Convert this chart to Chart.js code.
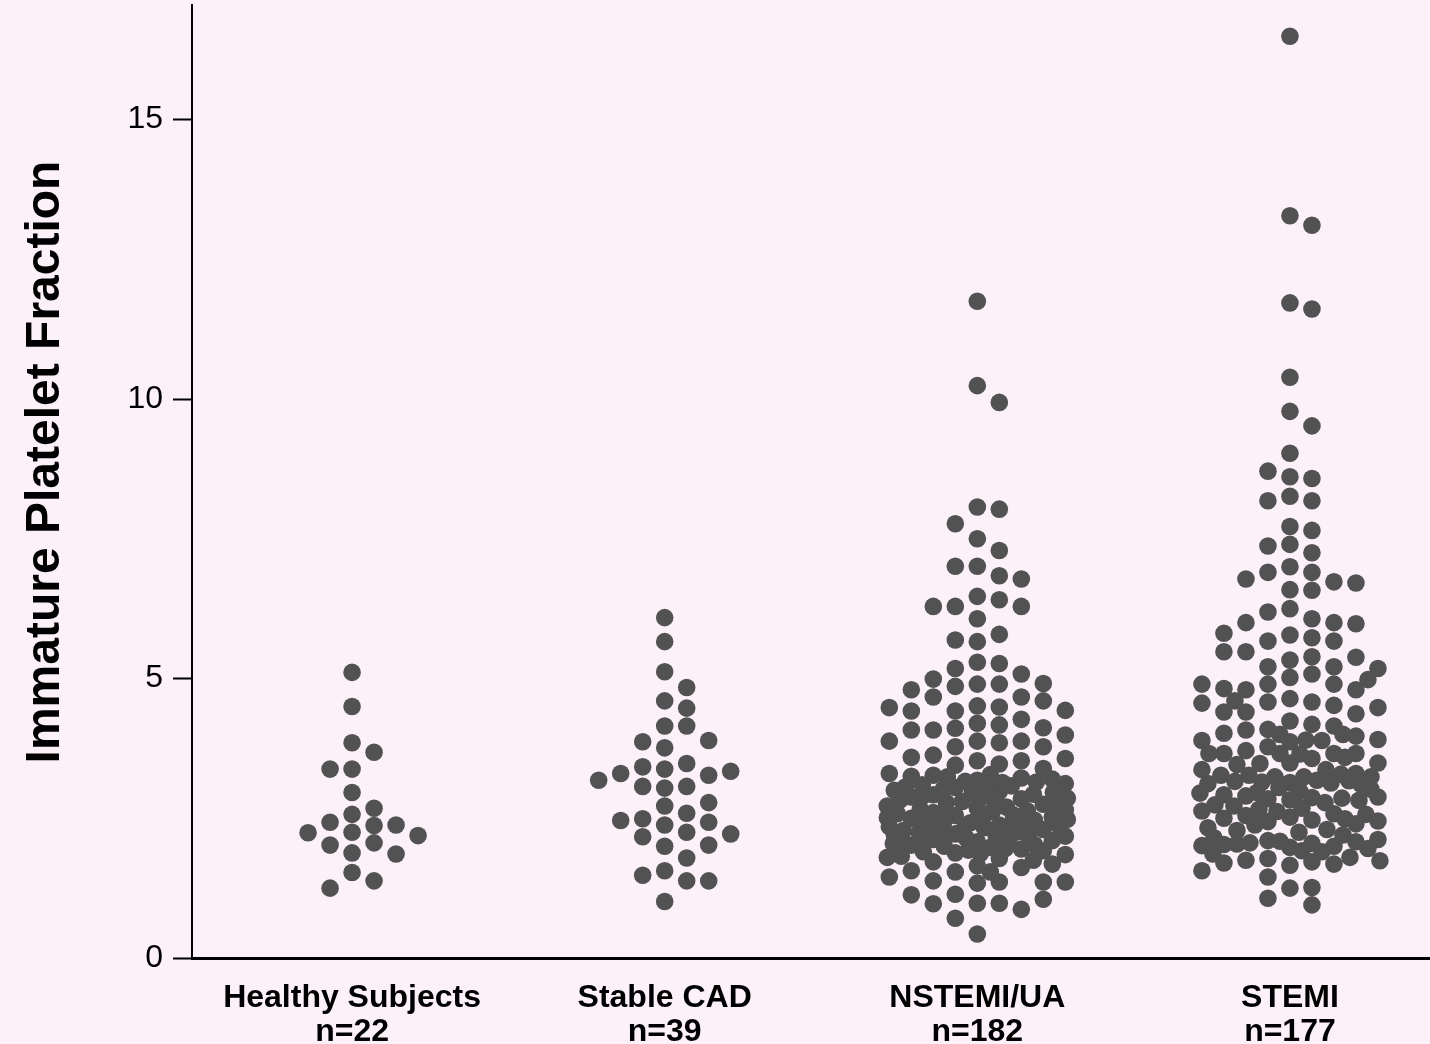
<!DOCTYPE html>
<html>
<head>
<meta charset="utf-8">
<title>Immature Platelet Fraction</title>
<script src="https://cdn.jsdelivr.net/npm/chart.js@4.4.1/dist/chart.umd.min.js"></script>
<style>
  html, body { margin: 0; padding: 0; background: #fcf0f9; }
  #wrap { width: 1430px; height: 1044px; }
</style>
</head>
<body>
<div id="wrap"><canvas id="ipfChart"></canvas></div>
<script>
const groupLabels = [
    ['Healthy Subjects', 'n=22'],
    ['Stable CAD', 'n=39'],
    ['NSTEMI/UA', 'n=182'],
    ['STEMI', 'n=177'],
];
const yTicks = [0, 5, 10, 15];

// IPF values, roughly top to bottom
const healthy = [5.11, 4.50, 3.85, 3.68, 3.38, 3.38, 2.96, 2.68, 2.57, 2.43, 2.37,
    2.38, 2.25, 2.24, 2.19, 2.06, 2.02, 1.88, 1.86, 1.53, 1.38, 1.25];

const stableCad = [6.09, 5.66, 5.12, 4.84, 4.60, 4.47, 4.15, 4.15, 3.87, 3.89, 3.76,
    3.38, 3.48, 3.42, 3.27, 3.30, 3.34, 3.18, 3.04, 3.07, 3.07, 2.78, 2.72, 2.59,
    2.49, 2.43, 2.38, 2.46, 2.25, 2.22, 2.17, 2.00, 2.02, 1.79, 1.56, 1.38, 1.48,
    1.38, 1.01];

const nstemi = [
    11.75, 10.24, 9.94, 8.07, 8.03, 7.77, 7.50, 7.29, 7.01, 7.01, 6.84, 6.78, 6.47,
    6.41, 6.29, 6.29, 6.29, 6.07, 5.79, 5.66, 5.69,
    5.29, 5.27, 5.18, 5.08, 4.99, 4.90, 4.90, 4.91, 4.86, 4.80, 4.67, 4.67, 4.60,
    4.51, 4.49, 4.42, 4.42, 4.43, 4.48, 4.27, 4.20, 4.17, 4.11, 4.08, 4.12, 4.08,
    3.99, 3.88, 3.85, 3.88, 3.88, 3.78, 3.78, 3.63, 3.59, 3.53, 3.47, 3.53, 3.57,
    3.45, 3.39, 3.27,
    3.30, 2.68, 2.08, 3.18, 2.38, 2.98, 1.78, 2.55, 3.05, 2.22, 2.85, 1.95, 3.25,
    2.45, 2.12, 2.92, 2.60, 1.88, 3.12, 2.30, 2.75, 2.02, 2.50, 3.22, 1.65, 2.88,
    2.18, 2.65, 3.00, 2.35, 1.92, 2.80, 2.58, 2.25, 3.15, 1.72, 2.96, 2.42, 2.05,
    3.10, 2.70, 2.28, 1.85, 2.52, 3.28, 2.15, 2.90, 2.62, 1.98, 2.33, 3.08, 2.78,
    2.47, 1.82, 2.20, 2.95, 3.20, 2.40, 1.62, 2.66, 2.10, 2.86, 3.02, 2.26, 1.90,
    2.56, 2.72, 3.16, 2.14, 2.44, 2.00, 2.83, 3.24, 2.36, 1.68, 2.63, 2.93, 2.17,
    3.06, 1.96, 2.48, 2.77, 2.32, 1.80, 3.11, 2.53, 2.89, 2.23, 2.03, 2.59, 3.14,
    1.75, 2.29, 2.82, 2.51, 2.11, 2.37, 1.93, 2.21, 2.06, 1.87,
    1.54, 1.56, 1.36, 1.38, 1.34, 1.36, 1.36, 1.45, 1.54, 1.14, 0.98, 0.98, 0.87,
    0.97, 1.05, 1.13, 0.71, 0.43,
];

const stemi = [
    16.49, 13.28, 13.11, 11.72, 11.61, 10.39, 9.78, 9.52,
    9.03, 8.61, 8.58, 8.71, 8.26, 8.18, 8.18, 7.72, 7.65, 7.40, 7.37, 7.25, 7.00,
    6.90, 6.90, 6.73, 6.78, 6.59, 6.58, 6.71, 6.25, 6.07, 6.19, 6.00, 6.00, 5.98,
    5.78, 5.73, 5.67, 5.67, 5.81, 5.48, 5.33, 5.39, 5.38, 5.48, 5.21, 5.21, 5.18,
    5.02, 5.08, 4.90, 4.90, 4.80, 4.80, 4.82, 4.90, 4.98, 4.64, 4.58, 4.58, 4.52,
    4.40, 4.37, 4.40, 4.48, 4.56, 4.60, 4.24, 4.18, 4.09, 4.15, 4.08, 3.97, 4.02,
    3.87, 3.91, 3.89, 3.89, 3.90, 3.78, 4.00, 4.00, 3.66, 3.71, 3.57, 3.66, 3.49,
    3.66, 3.49, 3.66, 3.48, 3.66, 3.46, 3.59, 3.65, 3.37, 3.37, 3.30, 3.27, 3.24,
    3.24, 3.27, 3.29, 3.24,
    3.16, 3.14, 3.18, 3.12, 3.15, 3.13, 3.17, 3.11,
    2.90, 2.87, 2.85, 2.92, 2.83, 2.88, 2.86, 2.95, 2.82,
    2.58, 2.52, 2.47, 2.63, 2.44, 2.55, 2.40, 2.50, 2.45, 2.57, 2.49,
    2.33, 2.30, 2.28, 2.25,
    2.10, 2.05, 2.00, 2.08, 2.03, 1.98, 2.12, 2.06, 2.01, 2.09, 2.04, 1.96,
    1.78, 1.72, 1.75, 1.68, 1.80, 1.70, 1.74, 1.66,
    3.05, 2.98, 2.78, 2.72, 2.68, 2.96, 2.62, 2.38, 2.20, 2.15, 1.90, 1.86, 1.92,
    2.74, 3.02, 2.66,
    1.45, 1.56, 1.25, 1.26, 1.07, 0.95,
];

const groups = [healthy, stableCad, nstemi, stemi];

const BG = '#fcf0f9';
const DOT = '#525252';
const COL_PX = 22;   // spacing of swarm columns
const DIAM_PX = 17;  // points closer than this overlap
const MAX_COL = 4;
const MAX_W = 90;    // half width of a swarm, px

Chart.defaults.font.family = "'Liberation Sans', Arial, sans-serif";
Chart.defaults.color = '#000';

function clearance(placed, x, y) {
    let m = Infinity;
    for (const p of placed) {
        const d = Math.hypot(p.x - x, p.y - y);
        if (d < m) m = d;
    }
    return m;
}

// free column closest to the centre first; when the band is full,
// drop the point where it overlaps its neighbours least
function swarmOffsets(pys) {
    const placed = [];
    const order = [0];
    for (let k = 1; k <= MAX_COL; k++) order.push(k, -k);
    return pys.map(py => {
        let x = null;
        for (const c of order) {
            if (clearance(placed, c * COL_PX, py) >= DIAM_PX) { x = c * COL_PX; break; }
        }
        if (x === null) {
            let best = -1;
            for (let cx = 0; cx <= MAX_W; cx += 1) {
                for (const s of cx ? [cx, -cx] : [0]) {
                    const cl = clearance(placed, s, py);
                    if (cl > best + 0.01) { best = cl; x = s; }
                }
            }
        }
        placed.push({ x, y: py });
        return x;
    });
}

const bgPlugin = {
    id: 'bg',
    beforeDraw(chart) {
        const c = chart.ctx;
        c.save();
        c.fillStyle = BG;
        c.fillRect(0, 0, chart.width, chart.height);
        c.restore();
    },
    afterDraw(chart) {
        const c = chart.ctx;
        c.save();
        c.translate(59, 462);
        c.rotate(-Math.PI / 2);
        c.font = "bold 48px 'Liberation Sans', Arial, sans-serif";
        c.fillStyle = '#000';
        c.textAlign = 'center';
        c.textBaseline = 'alphabetic';
        c.fillText('Immature Platelet Fraction', 0, 0);
        c.restore();
    },
};

const chart = new Chart(document.getElementById('ipfChart'), {
    type: 'scatter',
    data: {
        datasets: groups.map((vals, i) => ({
            label: groupLabels[i][0],
            data: vals.map(v => ({ x: i + 1, y: v })),
            backgroundColor: DOT,
            borderWidth: 0,
            pointRadius: 8.8,
            pointHoverRadius: 8.8,
        })),
    },
    options: {
        responsive: true, maintainAspectRatio: false,
        animation: false,
        layout: { autoPadding: false, padding: { top: 5, left: 0, right: 0, bottom: 0 } },
        plugins: { legend: { display: false }, tooltip: { enabled: false } },
        scales: {
            x: {
                type: 'linear',
                min: 0.488, max: 4.448,
                afterBuildTicks: s => { s.ticks = [1, 2, 3, 4].map(v => ({ value: v })); },
                afterFit: s => { s.height = 86; s.paddingLeft = 0; s.paddingRight = 0; },
                grid: { display: false, drawTicks: false },
                border: { display: true, color: '#000', width: 3 },
                ticks: {
                    autoSkip: false, maxRotation: 0, padding: 24,
                    font: { size: 32, weight: 'bold', lineHeight: 1.04 },
                    callback: (v, i) => groupLabels[i],
                },
            },
            y: {
                min: 0, max: 17.05,
                afterBuildTicks: s => { s.ticks = yTicks.map(v => ({ value: v })); },
                afterFit: s => { s.width = 192; s.paddingTop = 0; s.paddingBottom = 0; },
                grid: {
                    drawOnChartArea: false, drawTicks: true,
                    tickLength: 19, tickWidth: 2, tickColor: '#000',
                },
                border: { display: true, color: '#000', width: 2 },
                ticks: { padding: 10, font: { size: 32 } },
            },
        },
    },
    plugins: [bgPlugin],
});

function layoutSwarm() {
    const xs = chart.scales.x, ys = chart.scales.y;
    groups.forEach((vals, i) => {
        const cx = xs.getPixelForValue(i + 1);
        const offs = swarmOffsets(vals.map(v => ys.getPixelForValue(v)));
        chart.data.datasets[i].data = vals.map((v, j) => ({ x: xs.getValueForPixel(cx + offs[j]), y: v }));
    });
    chart.update('none');
}
layoutSwarm();
</script>
</body>
</html>
